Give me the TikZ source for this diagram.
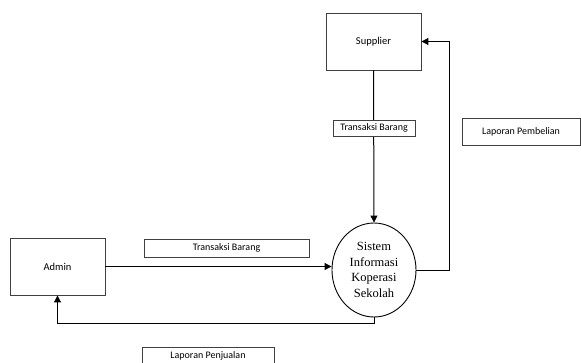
\documentclass[tikz,border=0pt]{standalone}
\usepackage{fontspec}
\setmainfont{Carlito}
\newfontfamily\circfont{Liberation Serif}
\usetikzlibrary{shapes.geometric,arrows.meta}
\tikzset{
  entity/.style={draw=black!75, line width=0.9pt, minimum width=95pt, minimum height=57pt, inner sep=0pt, font=\fontsize{10.5pt}{12pt}\selectfont},
  flowlabel/.style={draw=black!75, line width=0.9pt, fill=white, inner sep=0pt, font=\fontsize{10pt}{12pt}\selectfont},
  process/.style={draw=black, line width=0.9pt, ellipse, minimum width=84pt, minimum height=94pt, inner sep=0pt, align=center, font=\circfont\fontsize{12.5pt}{15.5pt}\selectfont},
  flow/.style={draw=black, line width=1pt, -{Triangle[length=7pt,width=7pt]}}
}
\begin{document}
\begin{tikzpicture}[x=1pt,y=-1pt]
\useasboundingbox (0,0) rectangle (581,362);
\clip (0,0) rectangle (581,362);
\node[entity] (supplier) at (373.5,41.5) {Supplier};
\node[entity] (admin) at (57.5,266.5) {Admin};
\node[process] (circ) at (374,270) {Sistem\\Informasi\\Koperasi\\Sekolah};
\draw[flow] (supplier.south) -- (circ.north);
\draw[flow] (admin.east) -- (admin.east -| circ.west);
\draw[flow] (circ.south) -- ++(0,6) -| (admin.south);
\draw[flow] (circ.east) -- ++(33,0) |- (supplier.east);
\node[flowlabel, minimum width=82pt, minimum height=16pt] (tb1) at (374,128) {Transaksi Barang};
\node[flowlabel, minimum width=165pt, minimum height=18pt] (tb2) at (226.5,248) {Transaksi Barang};
\node[flowlabel, minimum width=118pt, minimum height=27pt] (lpb) at (521,131.5) {Laporan Pembelian};
\node[flowlabel, minimum width=132pt, minimum height=18pt] (lpj) at (208,356) {Laporan Penjualan};
\end{tikzpicture}
\end{document}
